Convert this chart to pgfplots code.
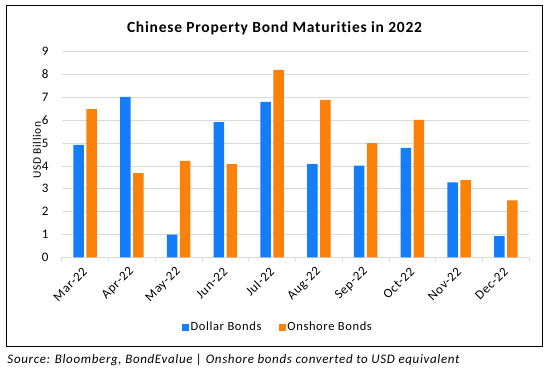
\documentclass[border=0pt]{standalone}
\usepackage{pgfplots}
\pgfplotsset{compat=1.18}
\usepackage{fontspec}
\setmainfont{Carlito}[LetterSpace=5, Ligatures=NoCommon]
\definecolor{dblue}{RGB}{20,125,250}
\definecolor{oorange}{RGB}{250,130,10}
\definecolor{gridgray}{RGB}{217,217,217}
\begin{document}
\begin{tikzpicture}
\path[use as bounding box] (-61.7bp,-114.7bp) rectangle (483.3bp,257.3bp);
\fill[white] (-61.7bp,-114.7bp) rectangle (483.3bp,257.3bp);
\draw[line width=1.2bp, black] (-55.4bp,251.6bp) rectangle (481.0bp,-89.4bp);
\node[anchor=base, font=\bfseries\fontsize{15.5bp}{18bp}\selectfont] at (212.8bp,224.6bp) {Chinese Property Bond Maturities in 2022};
\node[anchor=base west, inner sep=0pt, font=\itshape\fontsize{13bp}{15bp}\selectfont] at (-54.4bp,-105.7bp) {Source: Bloomberg, BondEvalue | Onshore bonds converted to USD equivalent};
\begin{axis}[
  scale only axis,
  width=467.6bp, height=205.6bp,
  at={(0,0)}, anchor=south west,
  ybar=2.5bp, bar width=10.5bp,
  xmin=-0.5, xmax=9.5, ymin=0, ymax=9,
  enlarge x limits=false,
  axis lines*=left,
  y axis line style={draw=none},
  x axis line style={draw=gridgray, line width=0.75bp},
  ytick={0,1,...,9},
  ymajorgrids,
  grid style={draw=gridgray, line width=0.75bp},
  major tick length=0pt,
  xtick=data,
  xticklabels={Mar-22,Apr-22,May-22,Jun-22,Jul-22,Aug-22,Sep-22,Oct-22,Nov-22,Dec-22},
  extra x ticks={-0.5,0.5,1.5,2.5,3.5,4.5,5.5,6.5,7.5,8.5,9.5},
  extra x tick labels={},
  extra x tick style={major tick length=4bp, tick align=outside, grid=none, tick style={draw=gridgray, line width=0.75bp}},
  /pgf/number format/assume math mode=true,
  tick label style={font=\fontsize{13bp}{15bp}\selectfont, text=black},
  yticklabel style={anchor=east, inner sep=0pt},
  yticklabel shift=13bp,
  xticklabel style={rotate=45, anchor=east, inner sep=0pt},
  xticklabel shift=12bp,
  ylabel={USD Billion},
  ylabel style={at={(rel axis cs:0,0.5)}, anchor=center, rotate=0, yshift=24.7bp, xshift=4.5bp, font=\fontsize{11.5bp}{13bp}\selectfont},
  legend columns=2,
  legend style={at={(rel axis cs:0.462,-0.340)}, anchor=center, draw=none, fill=none,
    font=\fontsize{12.5bp}{15bp}\selectfont,
    /tikz/every even column/.append style={column sep=16bp},
    nodes={inner sep=1.5bp}},
  legend image code/.code={\fill[#1] (0bp,-3.5bp) rectangle (7bp,3.5bp);},
]
\addplot[fill=dblue, draw=none] coordinates {(0,4.92) (1,7.02) (2,0.99) (3,5.92) (4,6.80) (5,4.08) (6,4.01) (7,4.79) (8,3.28) (9,0.93)};
\addplot[fill=oorange, draw=none] coordinates {(0,6.49) (1,3.69) (2,4.22) (3,4.08) (4,8.20) (5,6.89) (6,5.00) (7,6.02) (8,3.38) (9,2.49)};
\legend{Dollar Bonds, Onshore Bonds}
\end{axis}
\end{tikzpicture}
\end{document}
